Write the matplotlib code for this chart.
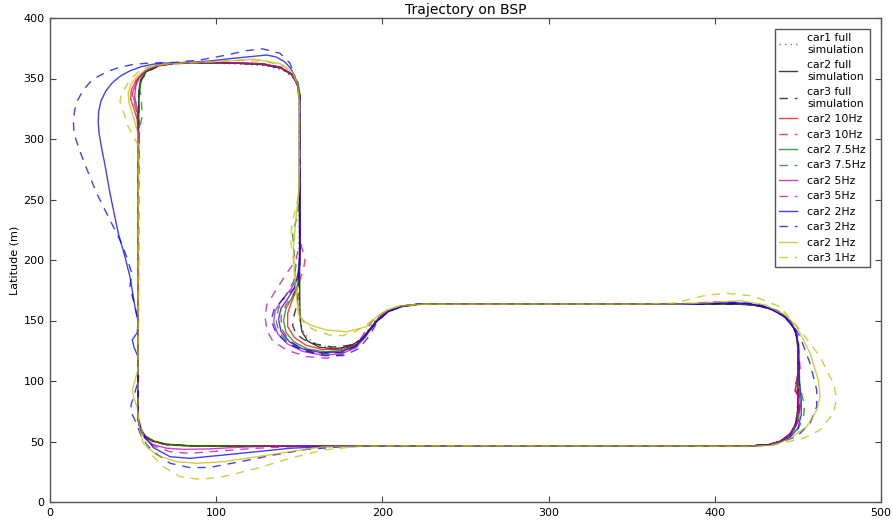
import matplotlib
matplotlib.use("Agg")
import matplotlib.pyplot as plt

# ---------------- data (longitude, latitude in m) ----------------
car1_full = [(250,46.2),(350,46.2),(420,46.2),(430,46.6),(438,49),(444,54),(448,62),(449.5,72),(450,90),(450,120),(449.5,135),(447,145),(442,153),(434,159),(424,162.5),(412,163.5),(300,163.6),(225,163.5),(215,162.5),(207,160),(200,156),(195,149),(190,139),(184,131),(176,127),(166,128),(158,132),(153,139),(150.5,148),(150,160),(150,250),(150,335),(149,344),(146,351),(140,357),(130,360.5),(115,362),(95,362.8),(80,363),(70,362),(62,359),(57,354),(54.5,347),(53.5,338),(53,325),(53,200),(53,70),(54,62),(56.5,55.5),(61,51),(67,48.5),(76,47),(90,46.4),(120,46.2),(250,46.2)]

car2_full = [(250,46.3),(350,46.3),(420,46.3),(431,47),(439,50),(445,56),(448.5,64),(449.8,75),(450,95),(450,125),(449.3,138),(446.5,147),(441,155),(433,160),(422,163),(410,163.6),(300,163.6),(222,163.5),(212,161.5),(204,158),(198,152),(193,144),(187,134),(180,128.5),(171,126.5),(162,128),(155,133),(151.5,141),(150.5,152),(150.3,165),(150,250),(150,338),(148.8,346),(145.5,353),(139,358.5),(128,361.5),(110,362.7),(90,363),(75,362.6),(65,360.5),(58,356),(54.5,349),(53.5,340),(53.3,325),(53,200),(53,68),(54.5,60),(57.5,54),(62.5,50),(70,47.5),(82,46.5),(100,46.3),(250,46.3)]

car3_full = [(250,46.3),(350,46.3),(422,46.3),(432,47.2),(440,50.5),(446,57),(449,66),(450.3,78),(450.3,100),(450,128),(449,140),(445.5,149),(439.5,156),(431,161),(420,163.4),(300,163.6),(224,163.5),(214,162),(206,159),(199,153),(193,143),(187,134),(180,129.5),(170,128),(160,130.5),(153,134),(148,139),(146,146),(147,155),(149,165),(150.3,200),(150.3,338),(149,347),(145,354),(138,359),(127,361.8),(110,362.8),(90,363),(75,362.5),(66,360.5),(59,356),(55,349),(53.8,340),(53.5,325),(53.3,200),(53,68),(54.3,60),(57,54),(62,50),(70,47.4),(84,46.5),(110,46.3),(250,46.3)]

car2_10hz = [(250,46.3),(350,46.3),(420,46.3),(432,47),(440,50),(446,56),(449,65),(450.5,75),(450.3,87),(448.5,92),(449.5,98),(450.3,110),(450,130),(448.5,142),(444,151),(437,158),(427,162.5),(414,164),(300,163.6),(222,163.5),(212,162),(203,157.5),(196,149),(190,138),(184,130),(175,126),(164,126),(154,129.5),(147,136),(143,145),(143,156),(145.5,166),(148.5,176),(150,188),(150.3,220),(150.3,336),(148.5,346),(145,354),(138,359.5),(126,362.3),(110,362.8),(90,363),(75,362.5),(64,360.5),(57,356),(52,349),(49,341),(48.5,333),(50.5,325),(52.5,316),(53,300),(53,200),(53,68),(54.5,60),(57.5,54.5),(62.5,50.5),(70,47.8),(82,46.6),(100,46.3),(250,46.3)]

car3_10hz = [(250,46.3),(350,46.3),(420,46.3),(433,47.3),(441,51),(447,58),(450.5,68),(451.3,80),(450.5,90),(448,95),(449.5,101),(450.3,115),(450,132),(448.5,143),(444,151.5),(436,158.5),(426,162.5),(412,164.3),(395,164),(300,163.6),(222,163.5),(212,162),(203,157),(196,148),(190,137),(184,128.5),(175,123.5),(163,123),(152,126.5),(144,133),(139.5,143),(139,153),(142,163),(146.5,172),(150,182),(152.5,192),(153.5,201),(151.5,210),(150.3,225),(150.3,336),(148.5,346),(144.5,354.5),(137,360),(124,362.5),(105,363),(88,363),(72,362),(62,359.5),(55.5,354),(51,346),(49.5,337),(51,328),(53,319),(53,300),(53,200),(53,68),(54.5,59),(58,53),(63.5,49.3),(72,46.9),(86,46.4),(110,46.3),(250,46.3)]

car2_7_5hz = [(250,46.3),(350,46.3),(420,46.3),(433,47.2),(442,51.5),(447.5,59),(450.5,69),(451.3,82),(450.5,100),(450.2,128),(449,140),(445,149.5),(438,157),(428,162),(414,163.8),(300,163.6),(222,163.5),(212,162),(204,158),(197,151),(191,140),(185,130.5),(177,125.5),(166,124),(155,126.5),(147,132),(142,140),(140.5,150),(142,160),(146,170),(149.5,180),(150.3,200),(150.3,337),(148.8,346),(145.5,353.5),(139,359),(128,362),(110,362.8),(90,363),(74,362.5),(64,360.5),(58,356),(55,349),(54,341),(53.5,330),(53.2,300),(53,200),(53,68),(54.5,60),(57.5,54),(62.5,50.2),(70,47.6),(84,46.5),(110,46.3),(250,46.3)]

car3_7_5hz = [(250,46.3),(350,46.3),(420,46.3),(434,47.5),(444,52.5),(450.5,61),(453.5,72),(454,80),(452.5,88),(450.5,100),(450.2,128),(449,140),(445,149.5),(438,157),(428,162.3),(414,164),(300,163.6),(222,163.5),(212,162),(204,158),(197,150),(191,139),(185,129),(176,123.5),(164,122.5),(153,125),(144,131),(138,140),(136,150),(137.5,160),(141.5,170),(146.5,182),(148,195),(146.5,210),(146,222),(148.5,235),(150.3,250),(150.3,337),(148.8,346),(145.5,353.5),(139,359),(128,362),(110,362.8),(90,363),(74,362.5),(64,360.5),(58,356),(55,349),(54,341),(55,330),(55.5,320),(54.5,312),(53.3,300),(53,200),(53,68),(54.5,60),(57.5,54),(62.5,50),(70,47.5),(84,46.5),(110,46.3),(250,46.3)]

car2_5hz = [(250,46.3),(350,46.3),(420,46.3),(432,47.2),(440,50.5),(446,57),(449.3,66),(450.3,78),(450,88),(448.2,92),(449,98),(450.3,110),(450,130),(448.5,142),(444,151),(437,158),(427,162.5),(414,164.3),(400,164.5),(380,163.6),(300,163.6),(222,163.5),(212,162),(203,157),(196,148.5),(190,137),(184,127.5),(175,122.3),(163,121.5),(152,124.5),(143,130.5),(137,139),(134.5,149),(135.5,158),(139.5,167),(145,176),(149,186),(150.3,200),(150.3,337),(148.8,346),(145.5,353.5),(139,359),(128,362),(110,362.8),(90,363),(74,362.5),(64,360.5),(57.5,356.5),(53.5,350),(51.5,343),(51,335),(52.5,325),(53.2,300),(53,200),(53,68),(54.5,59),(57.5,52),(62,47.5),(70,44.5),(80,43.5),(95,43.8),(110,45),(130,46.1),(250,46.3)]

car3_5hz = [(250,46.3),(350,46.3),(420,46.3),(433,47.5),(442,51.5),(447.5,59),(450.5,69),(451,80),(450,89),(448,94),(449.5,100),(451.5,108),(450.5,125),(449,139),(445.5,148),(440,155),(432,160.5),(422,164),(410,165.3),(400,165.5),(385,164),(300,163.6),(222,163.5),(210,161.5),(202,156.5),(194.5,150.4),(190,142),(186.5,133.9),(178.5,122.9),(166.5,118.8),(154.5,120.1),(142.4,125.6),(134,133),(130.5,142),(129.4,153),(130.4,162.8),(135.4,173.8),(142.4,189),(148,200),(150.3,215),(150.3,337),(148.8,346),(145.5,353.5),(139,359.5),(128,362.3),(110,362.8),(90,363),(74,362.5),(64,360.5),(57,356),(52.5,349),(50.5,341),(50.5,333),(52.5,323),(53.2,300),(53,200),(53,70),(54.5,61),(57,53),(62,46.5),(72,41.6),(84,40.2),(104,42.4),(124,44.4),(150,46),(250,46.3)]

car2_2hz = [(250,46.3),(350,46.3),(425,46.3),(437,48),(445,53),(450,61),(452,72),(452,85),(451,100),(450.5,130),(448,143),(442,153),(433,160),(420,164.3),(405,164.5),(390,163.6),(300,163.6),(222,163.5),(212,162),(203,157),(196,148.5),(190,138),(184,129),(175,124),(163,123.5),(152,126.5),(144,132.5),(139,141),(137.5,151),(139,160),(143,168),(147,177),(149.5,190),(150.3,205),(150.3,335),(149.2,343),(147.5,351),(145,358),(141,364),(136,367.8),(130.4,369.4),(120,368),(110.3,366.7),(95,364.3),(80,363.2),(70,362.8),(62,361.8),(55,359.8),(48.5,356.6),(42.5,352.2),(37.5,346.5),(33.5,339.5),(30.7,331.5),(29.3,323),(29,314),(29.5,305),(31,293),(33,279),(36.1,255.1),(41.1,222),(45.1,202.7),(48.1,186.2),(51.1,161.4),(53,150),(52.5,140),(49.5,134),(50.5,128),(53,120),(53,70),(54.5,62),(57,54),(62.2,45),(72.2,37.4),(84.2,36.1),(104.3,38.8),(124.4,41.6),(144.4,44.4),(165,45.8),(200,46.3),(250,46.3)]

car3_2hz = [(250,46.3),(350,46.3),(420,46.3),(436,48),(449.3,54),(457.3,65),(461.3,78.8),(461.3,92.6),(457.3,114.6),(451.3,136.6),(446,149),(438,158),(426,163.5),(410,164.5),(395,163.8),(300,163.6),(222,163.5),(212,162),(203,157),(197,149),(192,137),(186,127),(177,121),(165,121),(153,125),(143,131),(136,140),(133,150),(135,160),(142,170),(148,178),(150.3,190),(150.3,330),(149.4,338),(147.4,351.5),(144.4,362.6),(138.4,370.8),(128,374.5),(118,373),(106.3,369.4),(90.3,365.3),(75,363.3),(66,363),(58,362.6),(50,361.6),(42,359.3),(35,356),(29,351.8),(24,346.8),(20,340.5),(17,333),(15,325),(14,316),(14.3,308),(15.5,300),(18,290),(21,279),(28.1,255.1),(36.1,233),(42.1,216.5),(46.1,202.7),(49.2,189),(48.1,178),(51.1,161.4),(52.8,150),(53,100),(51,90),(48.7,80),(49.2,73),(52,65),(55,54),(58.5,47),(62.2,41.6),(72.2,32),(84.2,28.4),(96.3,28.6),(114.3,33.3),(134.4,38.8),(154.5,43.5),(175,45.6),(200,46.3),(250,46.3)]

car2_1hz = [(250,46.3),(350,46.3),(400,46.3),(425,46.3),(435.2,46.9),(445.3,52.6),(455.3,62.2),(461.3,76),(463.3,87),(462.3,100.8),(457.3,122.9),(449.3,144.9),(442,155),(430,163),(415.2,166.4),(400,165),(380,163.6),(300,163.6),(225,163.5),(210,162),(202.6,158.7),(196.6,153.1),(190.5,144.9),(178.5,140.7),(166.5,142.1),(156.4,146.3),(152,150.5),(149.4,156),(148.4,169.7),(147,190),(146.5,210),(148,235),(150,260),(150.3,330),(149,345),(146,355),(139,362),(123.4,366),(100,364),(80,363),(68,362),(59,358.5),(52.5,352),(48.5,345),(47.1,337.8),(47.5,330),(50.2,318),(52.8,305),(53.2,280),(53,200),(53,110),(51,100),(49.5,92.6),(50.5,86),(52.5,78),(53.3,68),(54,60),(56.1,48.5),(64.2,38.8),(76.2,33.3),(88.3,32),(104.3,33.3),(124.4,37.4),(144.4,41.6),(164.5,45.8),(190,46.3),(250,46.3)]

car3_1hz = [(250,46.4),(350,46.4),(400,46),(425,45.7),(439.2,48.5),(453.3,52.6),(463.3,59.5),(471.3,73.3),(473.3,85.7),(471.3,98.1),(463.3,120.1),(451.3,142.1),(439.2,161.4),(423.2,170.2),(407.2,172.5),(395.1,171),(375,164.2),(350,163.6),(300,163.6),(225,163.6),(212,162.5),(204,159),(197,154),(191,147),(184,141),(176,137.5),(168,138),(160,141.5),(154,146),(150.5,153),(149.3,165),(148.5,180),(146.5,200),(144.5,218),(146,232),(149,250),(150.3,280),(150,300),(149.4,307),(150.3,320),(149.5,340),(147,352),(141,360),(130,364),(115,365),(95,363.5),(75,362),(62,361),(54.2,357),(48.1,348.8),(43.1,337.8),(42.1,331),(45.1,318.4),(47.1,310),(50.2,302),(53,295),(53,200),(53,70),(54,65),(57.2,51.2),(60.2,40.2),(68.2,29.2),(78.2,20.9),(90.3,18.7),(104.3,20.9),(124.4,27.8),(144.4,36.1),(164.5,43),(184.5,45.8),(205,46.4),(250,46.4)]

series_labels = ["car1 full\nsimulation", "car2 full\nsimulation", "car3 full\nsimulation",
                 "car2 10Hz", "car3 10Hz", "car2 7.5Hz", "car3 7.5Hz",
                 "car2 5Hz", "car3 5Hz", "car2 2Hz", "car3 2Hz", "car2 1Hz", "car3 1Hz"]
series_data = [car1_full, car2_full, car3_full, car2_10hz, car3_10hz, car2_7_5hz, car3_7_5hz,
               car2_5hz, car3_5hz, car2_2hz, car3_2hz, car2_1hz, car3_1hz]
x_ticks = [0, 100, 200, 300, 400, 500]
y_ticks = [0, 50, 100, 150, 200, 250, 300, 350, 400]

# ---------------- styles ----------------
styles = [("k", ":"), ("k", "-"), ("k", "--"),
          ((1, 0, 0), "-"), ((1, 0, 0), "--"),
          ((0, 0.5, 0), "-"), ((0, 0.5, 0), "--"),
          ((0.75, 0, 0.75), "-"), ((0.75, 0, 0.75), "--"),
          ((0, 0, 1), "-"), ((0, 0, 1), "--"),
          ((0.75, 0.75, 0), "-"), ((0.75, 0.75, 0), "--")]

plt.rcParams["font.family"] = ["DejaVu Sans"]
plt.rcParams["lines.dashed_pattern"] = [6, 5]
plt.rcParams["lines.dotted_pattern"] = [1, 3]

fig = plt.figure(figsize=(8.92, 5.24), dpi=100)
ax = fig.add_axes([50/892, 1 - 502/524, 831/892, 484/524])

for data, lab, (c, ls) in zip(series_data, series_labels, styles):
    xs = [p[0] for p in data]
    ys = [p[1] for p in data]
    alpha = 0.55 if lab.startswith("car1") else 0.75
    ax.plot(xs, ys, color=c, linestyle=ls, linewidth=1.0, alpha=alpha, label=lab)

ax.set_xlim(0, 500)
ax.set_ylim(0, 400)
ax.set_xticks(x_ticks)
ax.set_yticks(y_ticks)
ax.tick_params(direction="in", top=True, right=True, labelsize=8, length=4,
               width=0.8, color="#444444", pad=4)
for s in ax.spines.values():
    s.set_color("#555555")
    s.set_linewidth(1.0)
ax.set_title("Trajectory on BSP", fontsize=10, pad=3)
ax.set_ylabel("Latitude (m)", fontsize=8, labelpad=3)

leg = ax.legend(loc="upper right", fontsize=7.8, frameon=True, fancybox=False,
                edgecolor="#555555", framealpha=1, handlelength=1.7,
                handletextpad=0.9, labelspacing=0.5, borderpad=0.4,
                borderaxespad=1.0)
leg.get_frame().set_linewidth(1.0)

fig.savefig("out.png", dpi=100)
